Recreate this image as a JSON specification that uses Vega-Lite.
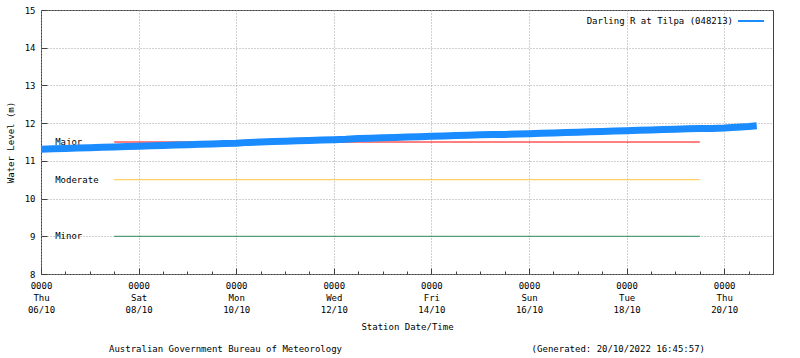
{
  "$schema": "https://vega.github.io/schema/vega-lite/v6.json",
  "width": 732,
  "height": 264,
  "autosize": "none",
  "padding": {"left": 41, "top": 10, "right": 27, "bottom": 84},
  "background": "white",
  "config": {
    "font": "DejaVu Sans Mono",
    "view": {"stroke": "#404040", "strokeWidth": 1},
    "axis": {
      "labelFont": "DejaVu Sans Mono",
      "labelFontSize": 9,
      "labelColor": "#000000",
      "titleFont": "DejaVu Sans Mono",
      "titleFontSize": 9,
      "titleFontWeight": "normal",
      "titleColor": "#000000",
      "domain": false,
      "tickColor": "#404040",
      "gridColor": "#a0a0a0",
      "gridDash": [1, 2],
      "labelOverlap": false,
      "labelFlush": false,
      "labelBound": false
    }
  },
  "title": {
    "text": "Australian Government Bureau of Meteorology\u00a0\u00a0\u00a0\u00a0\u00a0\u00a0\u00a0\u00a0\u00a0\u00a0\u00a0\u00a0\u00a0\u00a0\u00a0\u00a0\u00a0\u00a0\u00a0\u00a0\u00a0\u00a0\u00a0\u00a0\u00a0\u00a0\u00a0\u00a0\u00a0\u00a0\u00a0\u00a0\u00a0\u00a0\u00a0(Generated: 20/10/2022 16:45:57)",
    "orient": "bottom",
    "anchor": "middle",
    "font": "DejaVu Sans Mono",
    "fontSize": 9,
    "fontWeight": "normal",
    "color": "#000000",
    "offset": 14
  },
  "encoding": {
    "x": {
      "field": "time",
      "type": "temporal",
      "scale": {"domain": ["2022-10-06T00:00", "2022-10-21T00:00"]},
      "title": "Station Date/Time",
      "axis": {
        "tickCount": {"interval": "hours", "step": 12},
        "labelExpr": "hours(datum.value) == 0 && date(datum.value) % 2 == 0 ? [timeFormat(datum.value, '%H%M'), timeFormat(datum.value, '%a'), timeFormat(datum.value, '%d/%m')] : ''",
        "gridOpacity": {"condition": {"test": "hours(datum.value) == 0 && date(datum.value) % 2 == 0", "value": 1}, "value": 0},
        "tickSize": {"condition": {"test": "hours(datum.value) == 0 && date(datum.value) % 2 == 0", "value": -6}, "value": -3},
        "labelBaseline": "top",
        "labelLineHeight": 12,
        "labelPadding": 13,
        "titlePadding": 8
      }
    },
    "y": {
      "field": "value",
      "type": "quantitative",
      "scale": {"domain": [8, 15], "nice": false, "zero": false},
      "title": "Water Level (m)",
      "axis": {"values": [8, 9, 10, 11, 12, 13, 14, 15], "tickSize": -6, "labelPadding": 12, "titlePadding": 9}
    }
  },
  "layer": [
    {
      "data": {"values": [
        {"level": "Major", "value": 11.5, "time": "2022-10-07T12:00", "end": "2022-10-19T12:00"},
        {"level": "Moderate", "value": 10.5, "time": "2022-10-07T12:00", "end": "2022-10-19T12:00"},
        {"level": "Minor", "value": 9, "time": "2022-10-07T12:00", "end": "2022-10-19T12:00"}
      ]},
      "mark": {"type": "rule", "strokeWidth": 1},
      "encoding": {
        "x2": {"field": "end"},
        "stroke": {
          "field": "level",
          "type": "nominal",
          "scale": {"domain": ["Major", "Moderate", "Minor"], "range": ["#ff0000", "#ffc840", "#2e8b57"]},
          "legend": null
        }
      }
    },
    {
      "data": {"values": [
        {"level": "Major", "value": 11.5, "time": "2022-10-07T12:00"},
        {"level": "Moderate", "value": 10.5, "time": "2022-10-07T12:00"},
        {"level": "Minor", "value": 9, "time": "2022-10-07T12:00"}
      ]},
      "mark": {"type": "text", "align": "left", "baseline": "middle", "dx": -59, "font": "DejaVu Sans Mono", "fontSize": 9, "color": "#000000"},
      "encoding": {
        "text": {"field": "level"}
      }
    },
    {
      "data": {"values": [
        {"time": "2022-10-06T00:00", "value": 11.31, "series": "Darling R at Tilpa (048213)"},
        {"time": "2022-10-06T06:00", "value": 11.32, "series": "Darling R at Tilpa (048213)"},
        {"time": "2022-10-06T12:00", "value": 11.33, "series": "Darling R at Tilpa (048213)"},
        {"time": "2022-10-06T18:00", "value": 11.34, "series": "Darling R at Tilpa (048213)"},
        {"time": "2022-10-07T00:00", "value": 11.35, "series": "Darling R at Tilpa (048213)"},
        {"time": "2022-10-07T06:00", "value": 11.36, "series": "Darling R at Tilpa (048213)"},
        {"time": "2022-10-07T12:00", "value": 11.37, "series": "Darling R at Tilpa (048213)"},
        {"time": "2022-10-07T18:00", "value": 11.38, "series": "Darling R at Tilpa (048213)"},
        {"time": "2022-10-08T00:00", "value": 11.39, "series": "Darling R at Tilpa (048213)"},
        {"time": "2022-10-08T06:00", "value": 11.40, "series": "Darling R at Tilpa (048213)"},
        {"time": "2022-10-08T12:00", "value": 11.41, "series": "Darling R at Tilpa (048213)"},
        {"time": "2022-10-08T18:00", "value": 11.42, "series": "Darling R at Tilpa (048213)"},
        {"time": "2022-10-09T00:00", "value": 11.43, "series": "Darling R at Tilpa (048213)"},
        {"time": "2022-10-09T06:00", "value": 11.44, "series": "Darling R at Tilpa (048213)"},
        {"time": "2022-10-09T12:00", "value": 11.45, "series": "Darling R at Tilpa (048213)"},
        {"time": "2022-10-09T18:00", "value": 11.46, "series": "Darling R at Tilpa (048213)"},
        {"time": "2022-10-10T00:00", "value": 11.47, "series": "Darling R at Tilpa (048213)"},
        {"time": "2022-10-10T06:00", "value": 11.49, "series": "Darling R at Tilpa (048213)"},
        {"time": "2022-10-10T12:00", "value": 11.50, "series": "Darling R at Tilpa (048213)"},
        {"time": "2022-10-10T18:00", "value": 11.51, "series": "Darling R at Tilpa (048213)"},
        {"time": "2022-10-11T00:00", "value": 11.52, "series": "Darling R at Tilpa (048213)"},
        {"time": "2022-10-11T06:00", "value": 11.53, "series": "Darling R at Tilpa (048213)"},
        {"time": "2022-10-11T12:00", "value": 11.54, "series": "Darling R at Tilpa (048213)"},
        {"time": "2022-10-11T18:00", "value": 11.55, "series": "Darling R at Tilpa (048213)"},
        {"time": "2022-10-12T00:00", "value": 11.56, "series": "Darling R at Tilpa (048213)"},
        {"time": "2022-10-12T06:00", "value": 11.57, "series": "Darling R at Tilpa (048213)"},
        {"time": "2022-10-12T12:00", "value": 11.59, "series": "Darling R at Tilpa (048213)"},
        {"time": "2022-10-12T18:00", "value": 11.60, "series": "Darling R at Tilpa (048213)"},
        {"time": "2022-10-13T00:00", "value": 11.61, "series": "Darling R at Tilpa (048213)"},
        {"time": "2022-10-13T06:00", "value": 11.62, "series": "Darling R at Tilpa (048213)"},
        {"time": "2022-10-13T12:00", "value": 11.63, "series": "Darling R at Tilpa (048213)"},
        {"time": "2022-10-13T18:00", "value": 11.64, "series": "Darling R at Tilpa (048213)"},
        {"time": "2022-10-14T00:00", "value": 11.65, "series": "Darling R at Tilpa (048213)"},
        {"time": "2022-10-14T06:00", "value": 11.66, "series": "Darling R at Tilpa (048213)"},
        {"time": "2022-10-14T12:00", "value": 11.67, "series": "Darling R at Tilpa (048213)"},
        {"time": "2022-10-14T18:00", "value": 11.68, "series": "Darling R at Tilpa (048213)"},
        {"time": "2022-10-15T00:00", "value": 11.69, "series": "Darling R at Tilpa (048213)"},
        {"time": "2022-10-15T06:00", "value": 11.70, "series": "Darling R at Tilpa (048213)"},
        {"time": "2022-10-15T12:00", "value": 11.70, "series": "Darling R at Tilpa (048213)"},
        {"time": "2022-10-15T18:00", "value": 11.71, "series": "Darling R at Tilpa (048213)"},
        {"time": "2022-10-16T00:00", "value": 11.72, "series": "Darling R at Tilpa (048213)"},
        {"time": "2022-10-16T06:00", "value": 11.73, "series": "Darling R at Tilpa (048213)"},
        {"time": "2022-10-16T12:00", "value": 11.74, "series": "Darling R at Tilpa (048213)"},
        {"time": "2022-10-16T18:00", "value": 11.75, "series": "Darling R at Tilpa (048213)"},
        {"time": "2022-10-17T00:00", "value": 11.76, "series": "Darling R at Tilpa (048213)"},
        {"time": "2022-10-17T06:00", "value": 11.77, "series": "Darling R at Tilpa (048213)"},
        {"time": "2022-10-17T12:00", "value": 11.78, "series": "Darling R at Tilpa (048213)"},
        {"time": "2022-10-17T18:00", "value": 11.79, "series": "Darling R at Tilpa (048213)"},
        {"time": "2022-10-18T00:00", "value": 11.80, "series": "Darling R at Tilpa (048213)"},
        {"time": "2022-10-18T06:00", "value": 11.81, "series": "Darling R at Tilpa (048213)"},
        {"time": "2022-10-18T12:00", "value": 11.82, "series": "Darling R at Tilpa (048213)"},
        {"time": "2022-10-18T18:00", "value": 11.83, "series": "Darling R at Tilpa (048213)"},
        {"time": "2022-10-19T00:00", "value": 11.84, "series": "Darling R at Tilpa (048213)"},
        {"time": "2022-10-19T06:00", "value": 11.85, "series": "Darling R at Tilpa (048213)"},
        {"time": "2022-10-19T12:00", "value": 11.86, "series": "Darling R at Tilpa (048213)"},
        {"time": "2022-10-19T18:00", "value": 11.86, "series": "Darling R at Tilpa (048213)"},
        {"time": "2022-10-20T00:00", "value": 11.87, "series": "Darling R at Tilpa (048213)"},
        {"time": "2022-10-20T06:00", "value": 11.89, "series": "Darling R at Tilpa (048213)"},
        {"time": "2022-10-20T12:00", "value": 11.91, "series": "Darling R at Tilpa (048213)"},
        {"time": "2022-10-20T16:00", "value": 11.93, "series": "Darling R at Tilpa (048213)"}
      ]},
      "mark": {"type": "line", "strokeWidth": 7},
      "encoding": {
        "color": {
          "field": "series",
          "type": "nominal",
          "scale": {"range": ["#1a8cff"]},
          "legend": {
            "orient": "none",
            "legendX": 694,
            "legendY": -5,
            "title": null,
            "symbolType": "stroke",
            "symbolSize": 676,
            "symbolStrokeWidth": 2,
            "labelAlign": "right",
            "labelOffset": -32,
            "labelFont": "DejaVu Sans Mono",
            "labelFontSize": 9,
            "labelColor": "#000000",
            "labelLimit": 300,
            "padding": 2
          }
        }
      }
    }
  ]
}
